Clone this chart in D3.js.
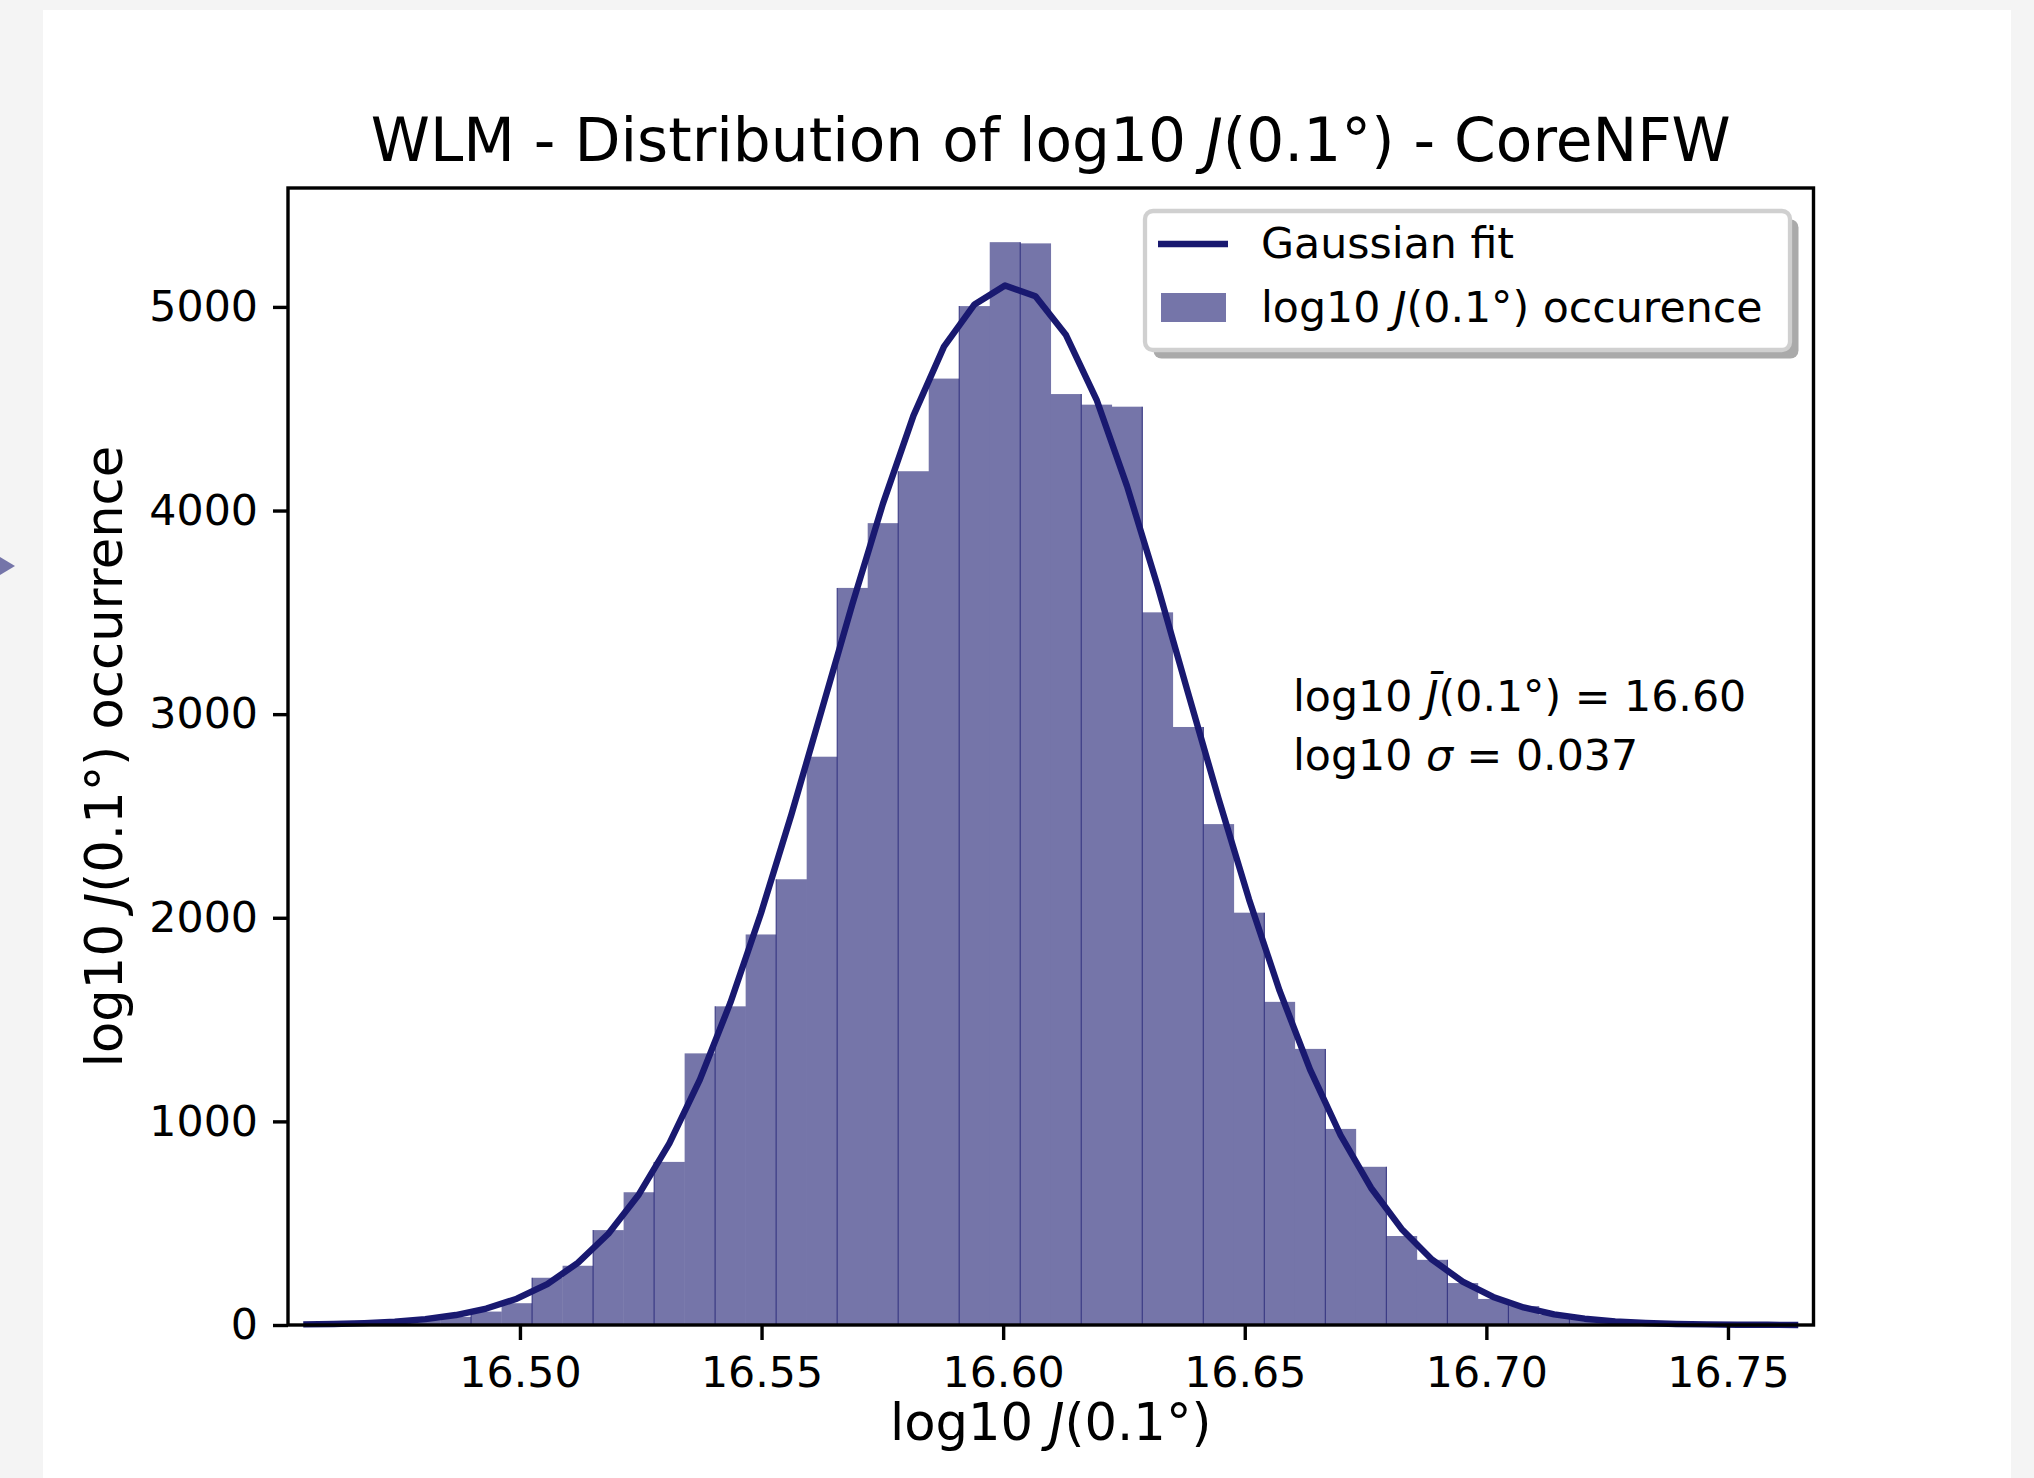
<!DOCTYPE html>
<html>
<head>
<meta charset="utf-8">
<script src="https://cdn.jsdelivr.net/npm/d3@7"></script>
<style>
    body { margin: 0; background: #f4f4f4; }
    svg { display: block; }
    text { font-family: "DejaVu Sans", sans-serif; fill: #000; }
</style>
</head>
<body>
<div id="chart"></div>
<script>

// histogram counts per bin (50 bins)
var counts = [1, 3, 7, 14, 24, 40, 66, 107, 232, 291,
    466, 652, 801, 1334, 1565, 1918, 2189, 2791, 3620, 3938,
    4193, 4648, 5004, 5318, 5312, 4572, 4520, 4510, 3500, 2937,
    2460, 2025, 1587, 1356, 963, 777, 437, 320, 206, 128,
    93, 50, 28, 15, 8, 4, 2, 1, 1, 0];

// gaussian fit read at bin centres
var fitValues = [3, 5, 9, 16, 29, 49, 81, 129, 201, 305,
    448, 641, 892, 1205, 1583, 2021, 2507, 3023, 3542, 4034,
    4466, 4805, 5012, 5105, 5052, 4862, 4545, 4120, 3630, 3105,
    2585, 2090, 1642, 1254, 932, 673, 472, 321, 213, 138,
    86, 52, 31, 18, 10, 5, 3, 1, 1, 0];

var binRange = [16.452, 16.7677];
var xTicks = [16.50, 16.55, 16.60, 16.65, 16.70, 16.75];
var yTicks = [0, 1000, 2000, 3000, 4000, 5000];
var yMax = 5584;

var texts = {
    title : ["WLM - Distribution of log10 ", "J", "(0.1°) - CoreNFW"],
    xlabel : ["log10 ", "J", "(0.1°)"],
    ylabel : ["log10 ", "J", "(0.1°) occurrence"],
    legendLine : "Gaussian fit",
    legendBar : ["log10 ", "J", "(0.1°) occurence"],
    meanLine : ["log10 ", "J\u0304", "(0.1°) = 16.60"],
    sigmaLine : ["log10 ", "σ", " = 0.037"]
};

var W = 2034, H = 1478;
var plot = { left : 288, right : 1813.5, top : 188, bottom : 1325 };
var navy = "#191970";
var barFill = "#7575a9";
var fs = 42.7;      // ticks, legend, note
var fsLabel = 51.2; // axis labels
var fsTitle = 59.8;

var svg = d3.select("#chart").append("svg")
    .attr("width", W)
    .attr("height", H);

// figure panel
svg.append("rect")
    .attr("x", 43).attr("y", 10)
    .attr("width", 1968).attr("height", H)
    .attr("fill", "#fff");

// little side marker at the page edge
svg.append("path")
    .attr("d", "M0,557L15,566L0,575Z")
    .attr("fill", barFill);

var nBins = counts.length;
var binW = (binRange[1] - binRange[0]) / nBins;
var edges = d3.range(nBins + 1).map(function(i) { return binRange[0] + i * binW; });

var x = d3.scaleLinear().domain(binRange).range([plot.left, plot.right]);
var y = d3.scaleLinear().domain([0, yMax]).range([plot.bottom, plot.top]);

// bars
svg.append("g").selectAll("rect")
    .data(counts)
    .enter().append("rect")
    .attr("x", function(d, i) { return x(edges[i]); })
    .attr("width", function(d, i) { return x(edges[i + 1]) - x(edges[i]) + 0.3; })
    .attr("y", function(d) { return y(d); })
    .attr("height", function(d) { return y(0) - y(d); })
    .attr("fill", barFill);

// thin bar edges (only every other one shows in the picture)
svg.append("g").selectAll("line")
    .data(d3.range(2, nBins, 2))
    .enter().append("line")
    .attr("x1", function(i) { return x(edges[i]); })
    .attr("x2", function(i) { return x(edges[i]); })
    .attr("y1", y(0))
    .attr("y2", function(i) { return y(Math.max(counts[i - 1], counts[i])); })
    .style("stroke", navy)
    .style("stroke-width", 1.1)
    .style("stroke-opacity", 0.75);

// gaussian fit
var line = d3.line()
    .x(function(d, i) { return x((edges[i] + edges[i + 1]) / 2); })
    .y(function(d) { return y(d); });

svg.append("path")
    .datum(fitValues)
    .attr("d", line)
    .attr("fill", "none")
    .style("stroke", navy)
    .style("stroke-width", 6.4)
    .style("stroke-linejoin", "round")
    .style("stroke-linecap", "butt");

// axes
var xAxis = d3.axisBottom(x)
    .tickValues(xTicks)
    .tickSize(15)
    .tickPadding(15)
    .tickFormat(d3.format(".2f"));

var yAxis = d3.axisLeft(y)
    .tickValues(yTicks)
    .tickSize(15)
    .tickPadding(15)
    .tickFormat(d3.format("d"));

var gx = svg.append("g")
    .attr("transform", "translate(0," + plot.bottom + ")")
    .call(xAxis);
var gy = svg.append("g")
    .attr("transform", "translate(" + plot.left + ",0)")
    .call(yAxis);

[gx, gy].forEach(function(g) {
    g.select(".domain").remove();
    g.selectAll(".tick line").style("stroke", "#000").style("stroke-width", 3.4);
    g.selectAll(".tick text")
        .style("font-family", "DejaVu Sans")
        .style("font-size", fs + "px")
        .attr("fill", "#000");
});
gx.selectAll(".tick text").attr("dy", "0.76em");

// spines
svg.append("rect")
    .attr("x", plot.left).attr("y", plot.top)
    .attr("width", plot.right - plot.left)
    .attr("height", plot.bottom - plot.top)
    .attr("fill", "none")
    .style("stroke", "#000")
    .style("stroke-width", 3.4);

function mathText(sel, parts) {
    parts.forEach(function(p, i) {
        var t = sel.append("tspan").text(p);
        if (i == 1) t.style("font-style", "italic");
    });
    return sel;
}

// title and labels
mathText(svg.append("text")
    .attr("x", (plot.left + plot.right) / 2)
    .attr("y", 161)
    .attr("text-anchor", "middle")
    .style("font-size", fsTitle + "px"), texts.title);

mathText(svg.append("text")
    .attr("x", (plot.left + plot.right) / 2)
    .attr("y", 1440)
    .attr("text-anchor", "middle")
    .style("font-size", fsLabel + "px"), texts.xlabel);

mathText(svg.append("text")
    .attr("transform", "translate(122," + (plot.top + plot.bottom) / 2 + ") rotate(-90)")
    .attr("text-anchor", "middle")
    .style("font-size", fsLabel + "px"), texts.ylabel);

// fit numbers
mathText(svg.append("text")
    .attr("x", 1293).attr("y", 711)
    .style("font-size", fs + "px"), texts.meanLine);
mathText(svg.append("text")
    .attr("x", 1293).attr("y", 770)
    .style("font-size", fs + "px"), texts.sigmaLine);

// legend
var lg = svg.append("g");
lg.append("rect")
    .attr("x", 1153.5).attr("y", 219.5)
    .attr("width", 645).attr("height", 139)
    .attr("rx", 8)
    .attr("fill", "#aaaaaa");
lg.append("rect")
    .attr("x", 1145).attr("y", 211)
    .attr("width", 645).attr("height", 139)
    .attr("rx", 8)
    .attr("fill", "#fff")
    .style("stroke", "#d0d0d0")
    .style("stroke-width", 4.3);

lg.append("line")
    .attr("x1", 1158).attr("x2", 1228)
    .attr("y1", 244).attr("y2", 244)
    .style("stroke", navy)
    .style("stroke-width", 6.4);
lg.append("rect")
    .attr("x", 1161).attr("y", 293)
    .attr("width", 65).attr("height", 29)
    .attr("fill", barFill);

lg.append("text")
    .attr("x", 1261).attr("y", 258)
    .style("font-size", fs + "px")
    .text(texts.legendLine);
mathText(lg.append("text")
    .attr("x", 1261).attr("y", 322)
    .style("font-size", fs + "px"), texts.legendBar);

</script>
</body>
</html>
